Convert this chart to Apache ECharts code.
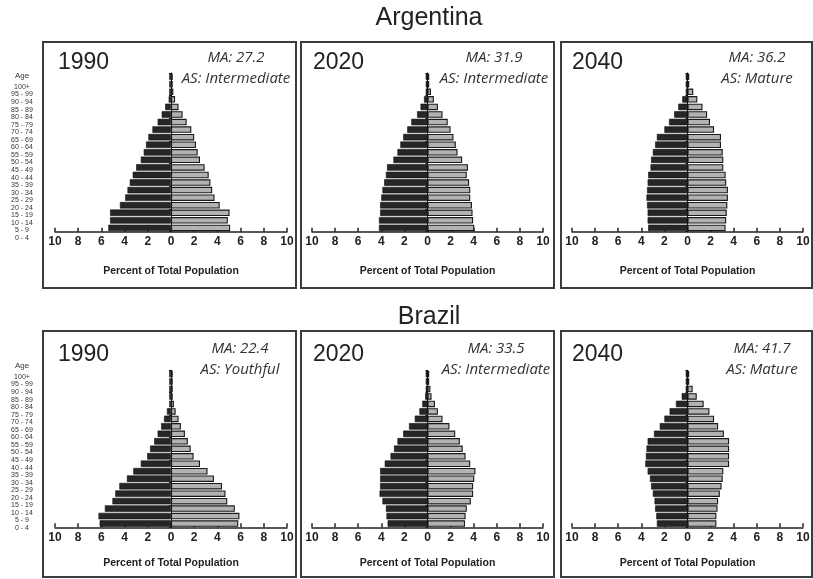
<!DOCTYPE html>
<html>
<head>
<meta charset="utf-8">
<script src="https://cdn.jsdelivr.net/npm/echarts@6/dist/echarts.min.js"></script>
<style>html,body{margin:0;padding:0;background:#fff}#c{width:813px;height:579px}</style>
</head>
<body>
<div id="c"></div>
<script>
// Age groups, bottom (0 - 4) to top (100+)
const ages = ['0 - 4','5 - 9','10 - 14','15 - 19','20 - 24','25 - 29','30 - 34','35 - 39','40 - 44','45 - 49','50 - 54','55 - 59','60 - 64','65 - 69','70 - 74','75 - 79','80 - 84','85 - 89','90 - 94','95 - 99','100+'];
const xTicks = [-10,-8,-6,-4,-2,0,2,4,6,8,10];
const countries = ['Argentina','Brazil'];
const years = ['1990','2020','2040'];
const medianAge = ['MA: 27.2','MA: 31.9','MA: 36.2','MA: 22.4','MA: 33.5','MA: 41.7'];
const ageStructure = ['AS: Intermediate','AS: Intermediate','AS: Mature','AS: Youthful','AS: Intermediate','AS: Mature'];

// Percent of total population (male = left, female = right)
const arg1990Male   = [5.4,5.25,5.25,4.4,3.95,3.75,3.55,3.3,3.0,2.6,2.35,2.15,1.95,1.6,1.15,0.8,0.5,0.2,0.15,0.15,0.15];
const arg1990Female = [5.1,4.9,5.05,4.2,3.75,3.55,3.4,3.25,2.9,2.5,2.3,2.15,2.0,1.75,1.35,1.0,0.65,0.35,0.2,0.15,0.15];
const arg2020Male   = [4.2,4.2,4.1,4.1,4.0,3.9,3.75,3.6,3.5,2.95,2.6,2.35,2.1,1.75,1.4,0.9,0.6,0.3,0.15,0.15,0.15];
const arg2020Female = [4.05,3.95,3.9,3.85,3.7,3.7,3.6,3.4,3.5,3.0,2.6,2.45,2.25,2.0,1.75,1.3,0.9,0.55,0.3,0.15,0.15];
const arg2040Male   = [3.4,3.45,3.45,3.5,3.55,3.5,3.45,3.4,3.2,3.15,3.0,2.8,2.65,2.0,1.6,1.15,0.8,0.45,0.15,0.15,0.15];
const arg2040Female = [3.3,3.35,3.4,3.45,3.5,3.5,3.35,3.3,3.1,3.1,3.05,2.9,2.9,2.3,1.95,1.7,1.3,0.85,0.5,0.15,0.15];
const bra1990Male   = [6.15,6.25,5.7,5.05,4.8,4.45,3.8,3.25,2.6,2.05,1.8,1.45,1.15,0.85,0.6,0.35,0.15,0.15,0.15,0.15,0.15];
const bra1990Female = [5.8,5.9,5.5,4.85,4.7,4.4,3.7,3.15,2.5,1.95,1.7,1.45,1.2,0.85,0.65,0.4,0.25,0.15,0.15,0.15,0.15];
const bra2020Male   = [3.45,3.55,3.6,3.9,4.15,4.1,4.1,4.1,3.7,3.2,2.9,2.6,2.1,1.6,1.1,0.7,0.45,0.2,0.15,0.15,0.15];
const bra2020Female = [3.25,3.3,3.4,3.75,3.95,3.95,4.05,4.15,3.7,3.3,3.05,2.8,2.4,1.9,1.3,0.9,0.65,0.35,0.25,0.15,0.15];
const bra2040Male   = [2.65,2.7,2.8,2.85,3.0,3.15,3.25,3.45,3.65,3.6,3.55,3.45,2.9,2.4,2.0,1.55,1.0,0.5,0.15,0.15,0.15];
const bra2040Female = [2.5,2.5,2.6,2.65,2.8,2.95,3.05,3.1,3.6,3.6,3.6,3.6,3.15,2.65,2.3,1.9,1.4,0.8,0.45,0.15,0.15];

const maleSets = [arg1990Male,arg2020Male,arg2040Male,bra1990Male,bra2020Male,bra2040Male];
const femaleSets = [arg1990Female,arg2020Female,arg2040Female,bra1990Female,bra2020Female,bra2040Female];

const FONT = 'Liberation Sans, Arial, sans-serif';
const colLeft = [55, 312, 572];
const colWidth = [232, 231, 231];
const rowTop = [72.9, 370.3];
const rowH = [158.8, 157];
const nameGaps = [34, 30];
const boxX = [[43,296],[301,554],[561,812]];
const boxY = [[42,288],[331,577]];
const textCx = [[236,494,757],[240,496,762]];
const yearY = [63, 355];
const maY = [59, 350];
const asY = [80, 371];
const yearX = [58, 313, 572];

const grids = [], xAxes = [], yAxes = [], series = [], titles = [], graphics = [];

for (let r = 0; r < 2; r++) {
  for (let c = 0; c < 3; c++) {
    const i = r * 3 + c;
    grids.push({left: colLeft[c], width: colWidth[c], top: rowTop[r], height: rowH[r]});
    xAxes.push({
      gridIndex: i, type: 'value', min: xTicks[0], max: xTicks[xTicks.length - 1], interval: xTicks[1] - xTicks[0],
      axisLine: {show: true, onZero: false, lineStyle: {color: '#222', width: 1.5}},
      axisTick: {show: true, inside: true, length: 4, lineStyle: {color: '#222', width: 1.5}},
      axisLabel: {formatter: v => Math.abs(v), fontWeight: 'bold', fontSize: 12, color: '#222', margin: 4, fontFamily: FONT},
      splitLine: {show: false},
      name: 'Percent of Total Population', nameLocation: 'middle', nameGap: nameGaps[r],
      nameTextStyle: {fontWeight: 'bold', fontSize: 10.5, color: '#222', fontFamily: FONT}
    });
    yAxes.push({
      gridIndex: i, type: 'category', data: ages,
      axisLine: {show: true, onZero: true, lineStyle: {color: '#111', width: 1}},
      axisTick: {show: true, length: 2, lineStyle: {color: '#111'}},
      axisLabel: {show: false}, splitLine: {show: false}
    });
    series.push({
      type: 'bar', xAxisIndex: i, yAxisIndex: i, barWidth: 6.5, barGap: '-100%',
      data: maleSets[i].map(v => -v), silent: true,
      itemStyle: {color: '#262626', borderColor: '#0d0d0d', borderWidth: 0.6}
    });
    series.push({
      type: 'bar', xAxisIndex: i, yAxisIndex: i, barWidth: 6.5, barGap: '-100%',
      data: femaleSets[i], silent: true,
      itemStyle: {color: '#b2b2b2', borderColor: '#1a1a1a', borderWidth: 1.1}
    });
    titles.push({text: years[c], left: yearX[c], top: yearY[r] - 12, padding: 0,
      textStyle: {fontSize: 23, fontWeight: 'normal', color: '#222', fontFamily: FONT}});
    titles.push({text: medianAge[i], left: textCx[r][c], top: maY[r] - 9, padding: 0, textAlign: 'center',
      textStyle: {fontSize: 15, fontStyle: 'italic', fontWeight: 'normal', color: '#333', fontFamily: 'Open Sans, sans-serif'}});
    titles.push({text: ageStructure[i], left: textCx[r][c], top: asY[r] - 9, padding: 0, textAlign: 'center',
      textStyle: {fontSize: 15, fontStyle: 'italic', fontWeight: 'normal', color: '#333', fontFamily: 'Open Sans, sans-serif'}});
    graphics.push({type: 'rect', shape: {x: boxX[c][0], y: boxY[r][0], width: boxX[c][1] - boxX[c][0], height: boxY[r][1] - boxY[r][0]},
      style: {fill: 'none', stroke: '#3c3c3c', lineWidth: 2}, z: -1});
  }
}

// age label columns
const labelTop = [83.2, 373.2];
for (let r = 0; r < 2; r++) {
  const gi = grids.length;
  grids.push({left: 22, width: 1, top: labelTop[r], height: 158.6});
  xAxes.push({gridIndex: gi, type: 'value', show: false, min: 0, max: 1});
  yAxes.push({
    gridIndex: gi, type: 'category', data: ages,
    axisLine: {show: false}, axisTick: {show: false}, splitLine: {show: false},
    axisLabel: {fontSize: 7, color: '#333', align: 'center', margin: 0, fontFamily: FONT, interval: 0},
    name: 'Age', nameLocation: 'end', nameGap: 3,
    nameTextStyle: {fontSize: 8, color: '#333', align: 'center', verticalAlign: 'bottom', fontFamily: FONT}
  });
}

titles.push({text: countries[0], left: 429, top: 6, padding: 0, textAlign: 'center',
  textStyle: {fontSize: 25, fontWeight: 'normal', color: '#222', fontFamily: FONT}});
titles.push({text: countries[1], left: 429, top: 305, padding: 0, textAlign: 'center',
  textStyle: {fontSize: 25, fontWeight: 'normal', color: '#222', fontFamily: FONT}});

const chart = echarts.init(document.getElementById('c'), null, {renderer: 'canvas'});
chart.setOption({
  animation: false,
  backgroundColor: '#fff',
  title: titles,
  grid: grids,
  xAxis: xAxes,
  yAxis: yAxes,
  series: series,
  graphic: graphics
});
</script>
</body>
</html>
